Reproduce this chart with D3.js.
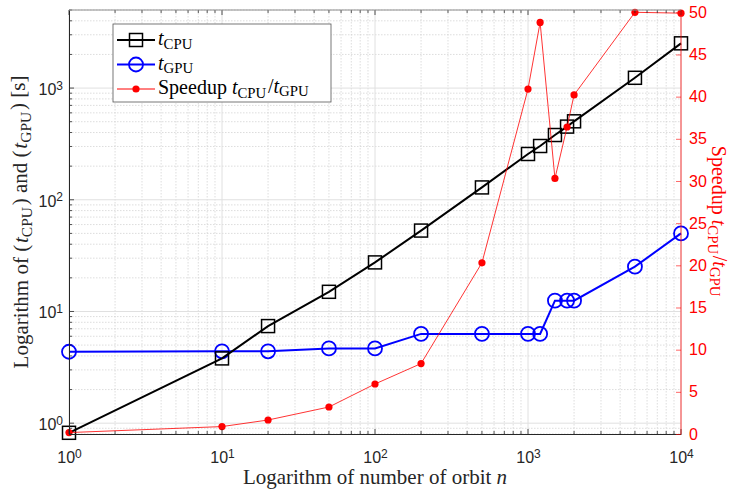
<!DOCTYPE html>
<html>
<head>
<meta charset="utf-8">
<script src="https://cdnjs.cloudflare.com/ajax/libs/d3/7.8.5/d3.min.js"></script>
<style>
  body { margin: 0; background: #fff; }
  svg { display: block; }
  .tick text { font-family: "Liberation Sans", Arial, sans-serif; }
  .ltx { font-family: "Liberation Serif", "Times New Roman", serif; }
</style>
</head>
<body>
<svg width="734" height="495"></svg>
<script>
// orbit counts
var orbits = [1, 10, 20, 50, 100, 200, 500, 1000, 1200, 1500, 1800, 2000, 5000, 10000];
// times in seconds
var tCPU = [0.82, 3.8, 7.4, 15.0, 27.5, 53, 129, 257, 303, 380, 452, 504, 1236, 2515];
var tGPU = [4.36, 4.4, 4.4, 4.67, 4.67, 6.3, 6.3, 6.3, 6.3, 12.5, 12.5, 12.5, 25.2, 50];
// speedup
var speedup = [0.17, 0.88, 1.66, 3.2, 5.93, 8.35, 20.3, 40.9, 48.8, 30.3, 36.4, 40.2, 50.0, 49.9];
var rightTicks = [0, 5, 10, 15, 20, 25, 30, 35, 40, 45, 50];

var svg = d3.select("svg");
var m = {left: 69, right: 681, top: 10, bottom: 434};

var x = d3.scaleLog().domain([1, 10000]).range([m.left, m.right]);
var yL = d3.scaleLog().domain([0.8, 5000]).range([m.bottom, m.top]);
var yR = d3.scaleLinear().domain([0, 50]).range([m.bottom, m.top + 2.3]);

// minor tick values
function logMinor(lo, hi) {
  var v = [];
  for (var e = -1; e <= 4; e++) for (var k = 1; k <= 9; k++) {
    var t = k * Math.pow(10, e);
    if (t >= lo && t <= hi) v.push(t);
  }
  return v;
}
var xMajor = [1, 10, 100, 1000, 10000];
var xMinor = logMinor(1, 10000).filter(function(d) { return xMajor.indexOf(d) < 0; });
var yMajor = [1, 10, 100, 1000];
var yMinor = logMinor(0.8, 5000).filter(function(d) { return yMajor.indexOf(d) < 0; });

// grid
var grid = svg.append("g");
grid.selectAll(".gxm").data(xMinor).enter().append("line")
  .attr("x1", x).attr("x2", x).attr("y1", m.top).attr("y2", m.bottom)
  .attr("stroke", "#cfcfcf").attr("stroke-width", 0.7).attr("stroke-dasharray", "1.5,1.5");
grid.selectAll(".gym").data(yMinor).enter().append("line")
  .attr("y1", yL).attr("y2", yL).attr("x1", m.left).attr("x2", m.right)
  .attr("stroke", "#cfcfcf").attr("stroke-width", 0.7).attr("stroke-dasharray", "1.5,1.5");
grid.selectAll(".gxM").data(xMajor).enter().append("line")
  .attr("x1", x).attr("x2", x).attr("y1", m.top).attr("y2", m.bottom)
  .attr("stroke", "#e0e0e0").attr("stroke-width", 1);
grid.selectAll(".gyM").data(yMajor).enter().append("line")
  .attr("y1", yL).attr("y2", yL).attr("x1", m.left).attr("x2", m.right)
  .attr("stroke", "#e0e0e0").attr("stroke-width", 1);

// series
var ptsCPU = orbits.map(function(n, i) { return [n, tCPU[i]]; });
var ptsGPU = orbits.map(function(n, i) { return [n, tGPU[i]]; });
var ptsSp = orbits.map(function(n, i) { return [n, speedup[i]]; });

var lineL = d3.line().x(function(d) { return x(d[0]); }).y(function(d) { return yL(d[1]); });
var lineR = d3.line().x(function(d) { return x(d[0]); }).y(function(d) { return yR(d[1]); });

svg.append("path").datum(ptsGPU).attr("d", lineL)
  .attr("fill", "none").attr("stroke", "#0000ff").attr("stroke-width", 2);
svg.selectAll(".cg").data(ptsGPU).enter().append("circle")
  .attr("cx", function(d) { return x(d[0]); }).attr("cy", function(d) { return yL(d[1]); })
  .attr("r", 7).attr("fill", "none").attr("stroke", "#0000ff").attr("stroke-width", 1.8);

svg.append("path").datum(ptsCPU).attr("d", lineL)
  .attr("fill", "none").attr("stroke", "#000").attr("stroke-width", 2);
svg.selectAll(".sq").data(ptsCPU).enter().append("rect")
  .attr("x", function(d) { return x(d[0]) - 6.5; }).attr("y", function(d) { return yL(d[1]) - 6.5; })
  .attr("width", 13).attr("height", 13).attr("fill", "none").attr("stroke", "#000").attr("stroke-width", 1.5);

svg.append("path").datum(ptsSp).attr("d", lineR)
  .attr("fill", "none").attr("stroke", "#ff0000").attr("stroke-width", 0.8);
svg.selectAll(".dot").data(ptsSp).enter().append("circle")
  .attr("cx", function(d) { return x(d[0]); }).attr("cy", function(d) { return yR(d[1]); })
  .attr("r", 3.6).attr("fill", "#ff0000");

// axes
var axisCol = "#262626";
var fmtPow = function(d) { return ""; };

var xAx = svg.append("g").attr("transform", "translate(0," + m.bottom + ")")
  .call(d3.axisBottom(x).tickValues(xMajor).tickSize(0).tickPadding(8).tickFormat(fmtPow));
xAx.select(".domain").attr("stroke", axisCol);
xAx.selectAll(".tick text").each(function(d) {
  var t = d3.select(this).attr("font-size", 16).attr("fill", axisCol).attr("y", 29).attr("dy", null);
  t.append("tspan").text("10");
  t.append("tspan").attr("dy", "-0.45em").attr("font-size", 12).text(Math.round(Math.log10(d)));
});
var xt = svg.append("g");
[xMajor, xMinor].forEach(function(vals, j) {
  var len = j === 0 ? 5 : 3;
  xt.selectAll(null).data(vals).enter().append("line")
    .attr("x1", x).attr("x2", x).attr("y1", m.bottom).attr("y2", m.bottom - len)
    .attr("stroke", axisCol).attr("stroke-width", 0.8);
  xt.selectAll(null).data(vals).enter().append("line")
    .attr("x1", x).attr("x2", x).attr("y1", m.top).attr("y2", m.top + len)
    .attr("stroke", axisCol).attr("stroke-width", 0.8);
});

var yAx = svg.append("g").attr("transform", "translate(" + m.left + ",0)")
  .call(d3.axisLeft(yL).tickValues(yMajor).tickSize(0).tickPadding(6).tickFormat(fmtPow));
yAx.select(".domain").attr("stroke", axisCol);
yAx.selectAll(".tick text").each(function(d) {
  var t = d3.select(this).attr("font-size", 16).attr("fill", axisCol).attr("dy", "0.4em");
  t.append("tspan").text("10");
  t.append("tspan").attr("dy", "-0.45em").attr("font-size", 12).text(Math.round(Math.log10(d)));
});
var yt = svg.append("g");
[yMajor, yMinor].forEach(function(vals, j) {
  var len = j === 0 ? 5 : 3;
  yt.selectAll(null).data(vals).enter().append("line")
    .attr("y1", yL).attr("y2", yL).attr("x1", m.left).attr("x2", m.left + len)
    .attr("stroke", axisCol).attr("stroke-width", 0.8);
});

// top border
svg.append("line").attr("x1", m.left).attr("x2", m.right).attr("y1", m.top).attr("y2", m.top)
  .attr("stroke", "#8c8c8c").attr("stroke-width", 1);

// right axis
var red = "#ff0000";
var rAx = svg.append("g").attr("transform", "translate(" + m.right + ",0)")
  .call(d3.axisRight(yR).tickValues(rightTicks).tickSize(-5).tickPadding(8));
rAx.select(".domain").remove();
rAx.selectAll(".tick line").attr("stroke", red).attr("stroke-opacity", 0.6);
rAx.selectAll(".tick text").attr("font-size", 16).attr("fill", red);
svg.append("line").attr("x1", m.right).attr("x2", m.right).attr("y1", m.top).attr("y2", m.bottom)
  .attr("stroke", red).attr("stroke-opacity", 0.75).attr("stroke-width", 1);

// subscripted latex-like label helper
function texLabel(t, parts) {
  parts.forEach(function(p) {
    if (p.sub) {
      t.append("tspan").attr("font-style", "italic").text(p.v);
      t.append("tspan").attr("dy", "0.26em").attr("font-size", "0.74em").text(p.sub);
      t.append("tspan").attr("dy", "-0.26em").text("\u200a");
    } else if (p.it) {
      t.append("tspan").attr("font-style", "italic").text(p.v);
    } else {
      t.append("tspan").text(p.v);
    }
  });
}

var xl = svg.append("text").attr("class", "ltx").attr("x", (m.left + m.right) / 2).attr("y", 484)
  .attr("text-anchor", "middle").attr("font-size", 21).attr("fill", axisCol);
texLabel(xl, [{v: "Logarithm of number of orbit "}, {v: "n", it: true}]);

var yl = svg.append("text").attr("class", "ltx")
  .attr("transform", "translate(28," + (m.top + m.bottom) / 2 + ") rotate(-90)")
  .attr("text-anchor", "middle").attr("font-size", 21).attr("fill", axisCol);
texLabel(yl, [{v: "Logarithm of (\u200a"}, {v: "t", sub: "CPU"}, {v: ") and (\u200a"}, {v: "t", sub: "GPU"}, {v: ") [s]"}]);

var rl = svg.append("text").attr("class", "ltx")
  .attr("transform", "translate(712," + (m.top + m.bottom) / 2 + ") rotate(90)")
  .attr("text-anchor", "middle").attr("font-size", 20).attr("fill", red);
texLabel(rl, [{v: "Speedup "}, {v: "t", sub: "CPU"}, {v: "/"}, {v: "t", sub: "GPU"}]);

// legend
var lg = svg.append("g");
lg.append("rect").attr("x", 113).attr("y", 24).attr("width", 218).attr("height", 78)
  .attr("fill", "#fff").attr("stroke", "#555").attr("stroke-width", 0.8);
var legendItems = [
  {col: "#000", mk: "sq", parts: [{v: "t", sub: "CPU"}]},
  {col: "#0000ff", mk: "ci", parts: [{v: "t", sub: "GPU"}]},
  {col: red, mk: "dot", parts: [{v: "Speedup "}, {v: "t", sub: "CPU"}, {v: "/"}, {v: "t", sub: "GPU"}]}
];
legendItems.forEach(function(it, i) {
  var yy = 40 + i * 24.5;
  lg.append("line").attr("x1", 117).attr("x2", 155).attr("y1", yy).attr("y2", yy)
    .attr("stroke", it.col).attr("stroke-width", it.mk === "dot" ? 1 : 2);
  if (it.mk === "sq") lg.append("rect").attr("x", 129.5).attr("y", yy - 6.5).attr("width", 13).attr("height", 13)
    .attr("fill", "none").attr("stroke", it.col).attr("stroke-width", 1.5);
  if (it.mk === "ci") lg.append("circle").attr("cx", 136).attr("cy", yy).attr("r", 7)
    .attr("fill", "none").attr("stroke", it.col).attr("stroke-width", 1.8);
  if (it.mk === "dot") lg.append("circle").attr("cx", 136).attr("cy", yy).attr("r", 3.6).attr("fill", it.col);
  var t = lg.append("text").attr("class", "ltx").attr("x", 158).attr("y", yy + 5)
    .attr("font-size", 20).attr("fill", "#000");
  texLabel(t, it.parts);
});
</script>
</body>
</html>
